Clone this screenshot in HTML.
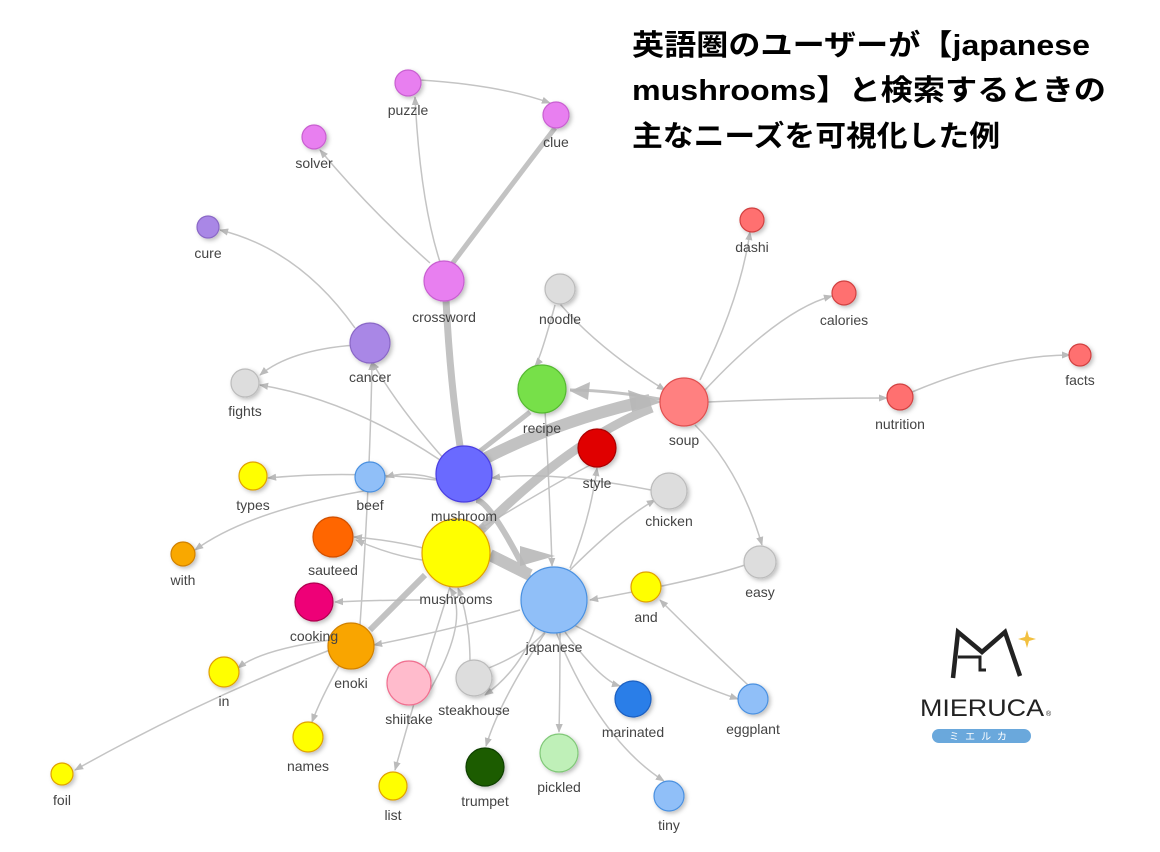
<!DOCTYPE html>
<html><head><meta charset="utf-8"><style>
html,body{margin:0;padding:0;background:#fff;width:1160px;height:852px;overflow:hidden}
svg text{font-family:"Liberation Sans","Noto Sans CJK JP",sans-serif}
</style></head><body>
<svg width="1160" height="852" viewBox="0 0 1160 852" xmlns="http://www.w3.org/2000/svg">
<defs>
<marker id="a" viewBox="0 0 10 10" refX="9" refY="5" markerWidth="6" markerHeight="6" orient="auto"><path d="M0,1 L10,5 L0,9z" fill="#bbb"/></marker>
<filter id="sh" x="-50%" y="-50%" width="200%" height="200%"><feDropShadow dx="2" dy="2" stdDeviation="2" flood-color="#000" flood-opacity="0.25"/></filter>
</defs>
<g fill="none" stroke="#c4c4c4" stroke-width="1.5" marker-end="url(#a)">
<path d="M420,80 Q500,85 550,103"/>
<path d="M440,262 Q420,200 415,97"/>
<path d="M430,263 Q370,210 320,150"/>
<path d="M355,328 Q300,250 220,230"/>
<path d="M355,345 Q290,350 260,375"/>
<path d="M440,460 Q350,400 260,385"/>
<path d="M445,460 Q400,410 372,362"/>
<path d="M560,304 Q600,350 665,390"/>
<path d="M555,305 Q540,360 535,366"/>
<path d="M700,380 Q740,300 750,232"/>
<path d="M705,390 Q780,310 832,296"/>
<path d="M708,402 Q800,398 887,398"/>
<path d="M912,392 Q1000,355 1070,355"/>
<path d="M695,425 Q740,470 762,545"/>
<path d="M436,480 Q350,470 268,478"/>
<path d="M440,480 Q410,470 386,477"/>
<path d="M370,490 Q250,510 195,550"/>
<path d="M423,548 Q390,540 354,537"/>
<path d="M422,560 Q390,555 356,540"/>
<path d="M421,600 Q380,600 335,602"/>
<path d="M600,460 Q560,480 478,530"/>
<path d="M651,490 Q550,470 492,478"/>
<path d="M745,565 Q700,580 590,600"/>
<path d="M748,685 Q700,640 660,600"/>
<path d="M570,570 Q620,520 655,500"/>
<path d="M570,568 Q590,520 597,468"/>
<path d="M535,628 Q520,670 485,695"/>
<path d="M545,632 Q520,660 460,678"/>
<path d="M520,610 Q450,630 374,645"/>
<path d="M565,632 Q600,680 620,686"/>
<path d="M560,633 Q560,690 559,732"/>
<path d="M556,632 Q600,740 664,781"/>
<path d="M574,625 Q680,680 738,699"/>
<path d="M545,633 Q500,700 486,746"/>
<path d="M450,587 Q420,680 395,770"/>
<path d="M340,664 Q320,700 312,722"/>
<path d="M330,650 Q200,700 75,770"/>
<path d="M330,640 Q260,650 238,668"/>
<path d="M360,625 Q370,480 372,362"/>
<path d="M430,690 Q470,620 450,588"/>
<path d="M470,662 Q470,620 458,588"/>
<path d="M545,410 Q550,500 552,566"/>
</g>
<g fill="none" stroke="#b8b8b8" opacity="0.85">
<path d="M446,300 Q450,380 460,446" stroke-width="7"/>
<path d="M452,264 Q500,200 555,128" stroke-width="5"/>
<path d="M486,458 Q560,420 650,400" stroke-width="12"/>
<path d="M476,535 Q570,440 652,408" stroke-width="9"/>
<path d="M475,455 Q520,420 530,412" stroke-width="5"/>
<path d="M530,575 Q500,560 490,555" stroke-width="12"/>
<path d="M530,580 Q490,500 476,500" stroke-width="6"/>
<path d="M370,630 Q400,600 425,575" stroke-width="6"/>
<path d="M665,400 Q610,390 570,390" stroke-width="3"/>
</g>
<g fill="#b8b8b8" opacity="0.9">
<path d="M662,402 L628,390 L632,412z"/>
<path d="M555,556 L520,546 L520,566z"/>
<path d="M570,391 L590,382 L588,400z"/>
</g>
<g stroke-width="1.2" filter="url(#sh)">
<circle cx="408" cy="83" r="13" fill="#e87ff0" stroke="#c85fd0"/>
<circle cx="556" cy="115" r="13" fill="#e87ff0" stroke="#c85fd0"/>
<circle cx="314" cy="137" r="12" fill="#e87ff0" stroke="#c85fd0"/>
<circle cx="444" cy="281" r="20" fill="#e87ff0" stroke="#c85fd0"/>
<circle cx="208" cy="227" r="11" fill="#a987e6" stroke="#8a67c6"/>
<circle cx="370" cy="343" r="20" fill="#a987e6" stroke="#8a67c6"/>
<circle cx="245" cy="383" r="14" fill="#ddd" stroke="#bbb"/>
<circle cx="560" cy="289" r="15" fill="#ddd" stroke="#bbb"/>
<circle cx="542" cy="389" r="24" fill="#77e04a" stroke="#55b830"/>
<circle cx="684" cy="402" r="24" fill="#ff8080" stroke="#e05050"/>
<circle cx="752" cy="220" r="12" fill="#ff7070" stroke="#d04040"/>
<circle cx="844" cy="293" r="12" fill="#ff7070" stroke="#d04040"/>
<circle cx="1080" cy="355" r="11" fill="#ff7070" stroke="#d04040"/>
<circle cx="900" cy="397" r="13" fill="#ff7070" stroke="#d04040"/>
<circle cx="597" cy="448" r="19" fill="#e00000" stroke="#a00"/>
<circle cx="669" cy="491" r="18" fill="#ddd" stroke="#bbb"/>
<circle cx="464" cy="474" r="28" fill="#6b6bff" stroke="#4a3ee0"/>
<circle cx="253" cy="476" r="14" fill="#ffff00" stroke="#e0a000"/>
<circle cx="370" cy="477" r="15" fill="#90bff8" stroke="#4a90e0"/>
<circle cx="333" cy="537" r="20" fill="#ff6600" stroke="#d05000"/>
<circle cx="183" cy="554" r="12" fill="#f9a800" stroke="#d08000"/>
<circle cx="456" cy="553" r="34" fill="#ffff00" stroke="#e0a000"/>
<circle cx="554" cy="600" r="33" fill="#90bff8" stroke="#4a90e0"/>
<circle cx="760" cy="562" r="16" fill="#ddd" stroke="#bbb"/>
<circle cx="646" cy="587" r="15" fill="#ffff00" stroke="#e0a000"/>
<circle cx="314" cy="602" r="19" fill="#ee0077" stroke="#b00050"/>
<circle cx="351" cy="646" r="23" fill="#f9a500" stroke="#d08000"/>
<circle cx="224" cy="672" r="15" fill="#ffff00" stroke="#e0a000"/>
<circle cx="409" cy="683" r="22" fill="#ffbbcc" stroke="#f07090"/>
<circle cx="474" cy="678" r="18" fill="#ddd" stroke="#bbb"/>
<circle cx="753" cy="699" r="15" fill="#90bff8" stroke="#4a90e0"/>
<circle cx="633" cy="699" r="18" fill="#2a7ee8" stroke="#1a5ec0"/>
<circle cx="308" cy="737" r="15" fill="#ffff00" stroke="#e0a000"/>
<circle cx="559" cy="753" r="19" fill="#bff0b8" stroke="#80c878"/>
<circle cx="485" cy="767" r="19" fill="#1f5c00" stroke="#104000"/>
<circle cx="393" cy="786" r="14" fill="#ffff00" stroke="#e0a000"/>
<circle cx="62" cy="774" r="11" fill="#ffff00" stroke="#e0a000"/>
<circle cx="669" cy="796" r="15" fill="#90bff8" stroke="#4a90e0"/>
</g>
<g font-size="14" fill="#444" text-anchor="middle">
<text x="408" y="115">puzzle</text><text x="556" y="147">clue</text><text x="314" y="168">solver</text>
<text x="444" y="322">crossword</text><text x="208" y="258">cure</text><text x="370" y="382">cancer</text>
<text x="245" y="416">fights</text><text x="560" y="324">noodle</text><text x="542" y="433">recipe</text>
<text x="684" y="445">soup</text><text x="752" y="252">dashi</text><text x="844" y="325">calories</text>
<text x="1080" y="385">facts</text><text x="900" y="429">nutrition</text><text x="597" y="488">style</text>
<text x="669" y="526">chicken</text><text x="464" y="521">mushroom</text><text x="253" y="510">types</text>
<text x="370" y="510">beef</text><text x="333" y="575">sauteed</text><text x="183" y="585">with</text>
<text x="456" y="604">mushrooms</text><text x="554" y="652">japanese</text><text x="760" y="597">easy</text>
<text x="646" y="622">and</text><text x="314" y="641">cooking</text><text x="351" y="688">enoki</text>
<text x="224" y="706">in</text><text x="409" y="724">shiitake</text><text x="474" y="715">steakhouse</text>
<text x="753" y="734">eggplant</text><text x="633" y="737">marinated</text><text x="308" y="771">names</text>
<text x="559" y="792">pickled</text><text x="485" y="806">trumpet</text><text x="393" y="820">list</text>
<text x="62" y="805">foil</text><text x="669" y="830">tiny</text>
</g>
<g font-size="29" font-weight="bold" fill="#000">
<text x="632" y="55" textLength="458" lengthAdjust="spacingAndGlyphs">英語圏のユーザーが【japanese</text>
<text x="632" y="100" textLength="474" lengthAdjust="spacingAndGlyphs">mushrooms】と検索するときの</text>
<text x="632" y="146" textLength="368" lengthAdjust="spacingAndGlyphs">主なニーズを可視化した例</text>
</g>
<g>
<path d="M953,678 L958,632 L982,652 L1005,632 L1020,676" fill="none" stroke="#222" stroke-width="4.5" stroke-linejoin="miter"/>
<path d="M958,657 L980,657 L980,670 L986,670" fill="none" stroke="#222" stroke-width="3"/>
<path d="M1027,630 l2,7 l7,2 l-7,2 l-2,7 l-2,-7 l-7,-2 l7,-2z" fill="#f2c040"/>
<text x="982" y="716" font-size="24" fill="#222" text-anchor="middle" textLength="124" lengthAdjust="spacingAndGlyphs">MIERUCA</text>
<text x="1046" y="716" font-size="7" fill="#222">®</text>
<rect x="932" y="729" width="99" height="14" rx="7" fill="#6aa8dc"/>
<text x="981" y="740" font-size="10" fill="#fff" text-anchor="middle" letter-spacing="6">ミエルカ</text>
</g>
</svg>
</body></html>
